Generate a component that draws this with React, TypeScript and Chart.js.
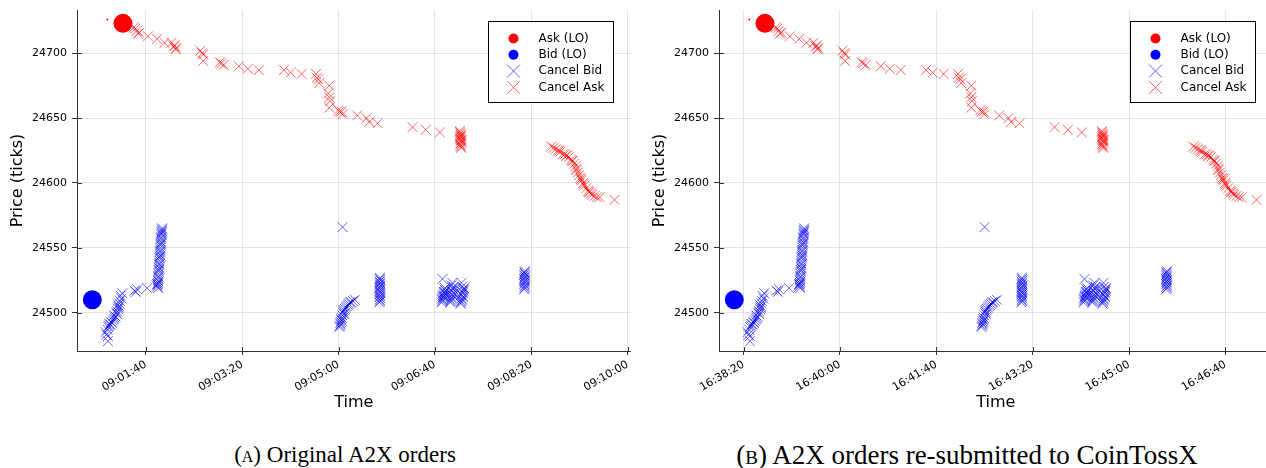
import React, { useEffect, useRef } from 'react';
import { Chart, registerables } from 'chart.js';

Chart.register(...registerables);

const SANS = '"DejaVu Sans", sans-serif';
const SERIF = '"Liberation Serif", "DejaVu Serif", serif';

// Order events, times in seconds after the session start, prices in ticks.
const askLoTimes = [60.0, 76.2];
const askLoPrices = [24726, 24723];
const askLoVolumes = [0.01, 1.0];

const bidLoTimes = [44.4];
const bidLoPrices = [24510];
const bidLoVolumes = [1.0];

const cancelBidTimes = [
  // opening climb
  58.1, 59.0, 60.6, 60.6, 59.9, 61.0, 61.6, 62.4, 63.3, 64.0, 64.8, 65.6, 66.8, 67.5, 68.5, 69.2, 69.8,
  70.2, 71.0, 71.5, 72.0, 72.6, 73.0, 73.7, 74.5, 75.4, 67.0, 70.8,
  88.2, 89.5, 91.0, 101.3, 111.7,
  // fast run-up
  112.0, 112.2, 112.4, 112.5, 112.7, 112.9, 113.0, 113.2, 113.3, 113.5, 113.7, 113.8, 114.0, 114.2, 114.3,
  114.5, 114.7, 114.8, 115.0, 115.2, 115.3, 115.5, 115.7, 115.8, 116.0, 116.2, 116.4, 116.6, 116.8, 116.9,
  113.1, 114.1, 115.1, 116.1, 111.5, 112.8,
  304.1,
  300.8, 301.3, 301.8, 302.0, 302.4, 302.9, 303.4, 303.9, 304.5, 305.0, 305.5, 306.5, 307.6, 308.5, 309.6,
  310.5, 311.7, 313.0, 314.8, 316.9, 303.0, 305.8,
  342.3, 343.1, 342.7, 343.3, 342.5, 343.0, 342.4, 343.2, 342.8, 342.6, 343.1, 342.4, 342.9, 343.3, 342.6,
  343.0, 342.5, 343.2, 342.7, 342.9,
  407.8, 418.1, 427.5,
  406.8, 407.4, 408.0, 408.6, 409.2, 409.8, 410.4, 407.1, 408.3, 409.5, 410.8, 407.7, 408.9, 410.1,
  416.0, 416.6, 417.2, 417.8, 418.4, 419.0, 419.6, 416.3, 417.5, 418.7, 419.3, 417.0, 418.1, 416.9,
  426.6, 427.2, 427.8, 428.4, 429.0, 429.6, 430.2, 426.9, 428.1, 429.3, 427.5, 428.7, 429.9, 428.0,
  492.4, 493.2, 492.8, 493.5, 492.6, 493.1, 492.9, 493.4, 492.5, 493.0, 493.3, 492.7, 493.1, 492.9, 493.2,
];
const cancelBidPrices = [
  24485, 24483, 24478, 24482, 24487, 24489, 24490, 24491, 24491, 24493, 24492, 24494, 24495, 24496, 24497, 24500, 24499,
  24501, 24503, 24504, 24505, 24507, 24509, 24513, 24511, 24515, 24498, 24506,
  24517, 24516, 24518, 24519, 24522,
  24520, 24522, 24523, 24525, 24527, 24528, 24530, 24532, 24533, 24535, 24537, 24538, 24540, 24542, 24543,
  24545, 24547, 24548, 24550, 24552, 24553, 24555, 24557, 24558, 24560, 24561, 24562, 24563, 24564, 24565,
  24524, 24534, 24544, 24554, 24521, 24519,
  24566,
  24489, 24490, 24492, 24491, 24493, 24495, 24496, 24498, 24500, 24501, 24502, 24503, 24504, 24505, 24506,
  24507, 24508, 24508, 24509, 24510, 24494, 24499,
  24508, 24509, 24510, 24511, 24512, 24513, 24514, 24515, 24516, 24517, 24518, 24519, 24520, 24521, 24522,
  24523, 24524, 24525, 24526, 24527,
  24526, 24523, 24523,
  24508, 24510, 24512, 24514, 24516, 24518, 24519, 24511, 24513, 24515, 24517, 24509, 24512, 24516,
  24508, 24510, 24512, 24514, 24516, 24518, 24520, 24509, 24511, 24513, 24515, 24517, 24519, 24521,
  24507, 24509, 24511, 24513, 24515, 24517, 24519, 24508, 24510, 24512, 24514, 24516, 24518, 24520,
  24518, 24519, 24520, 24521, 24522, 24523, 24524, 24525, 24526, 24527, 24528, 24529, 24530, 24531, 24532,
];

const cancelAskTimes = [
  87.6, 89.0, 90.2, 92.0, 93.0, 102.1, 111.7, 119.3, 126.5, 129.0, 130.0, 130.7, 131.5,
  156.6, 158.5, 159.4, 159.4, 176.7, 178.0, 180.8, 196.4, 205.7, 217.1,
  243.3, 250.3, 261.6, 276.5, 277.2, 278.9, 279.9, 290.3, 289.2, 290.3, 291.0, 290.3,
  299.6, 301.0, 303.1, 304.1, 319.3, 329.0, 331.7, 340.4, 376.7, 390.5, 405.0,
  425.6, 426.0, 426.4, 426.8, 427.2, 425.9, 426.3, 426.7, 427.1, 427.5, 426.1, 426.5, 426.9, 427.3, 427.7, 426.2,
  520.7, 523.0, 525.2, 527.5, 529.0, 530.0, 532.3, 534.5, 536.0, 537.0, 539.0, 541.2, 542.0, 543.1, 544.6,
  545.9, 546.5, 547.0, 548.3, 549.5, 550.8, 551.5, 552.0, 553.5, 554.0, 555.2, 557.0, 558.8, 559.5, 560.4,
  562.0, 563.0, 565.6, 568.0, 570.8, 586.3,
];
const cancelAskPrices = [
  24720, 24719, 24717, 24715, 24716, 24713, 24711, 24708, 24708, 24705, 24706, 24703, 24704,
  24702, 24700, 24699, 24694, 24693, 24692, 24691, 24690, 24688, 24687,
  24687, 24685, 24684, 24684, 24681, 24680, 24677, 24675, 24669, 24666, 24663, 24658,
  24656, 24655, 24655, 24653, 24652, 24650, 24647, 24646, 24643, 24641, 24639,
  24640, 24639, 24638, 24637, 24636, 24635, 24634, 24633, 24632, 24631, 24630, 24629, 24628, 24627, 24633, 24636,
  24628, 24627, 24626, 24625, 24625, 24624, 24622, 24622, 24621, 24621, 24620, 24618, 24617, 24617, 24615,
  24613, 24611, 24610, 24608, 24606, 24604, 24603, 24602, 24600, 24599, 24598, 24596, 24594, 24593, 24593,
  24592, 24591, 24590, 24589, 24589, 24587,
];

const priceTicks = [24500, 24550, 24600, 24650, 24700];
const priceMin = 24470.5;
const priceMax = 24733.3;

const timeTicksA = ['09:01:40', '09:03:20', '09:05:00', '09:06:40', '09:08:20', '09:10:00'];
const timeTicksB = ['16:38:20', '16:40:00', '16:41:40', '16:43:20', '16:45:00', '16:46:40'];
const sessionStartA = '09:00:00';
const sessionStartB = '16:37:26';
const windowStart = 28.5;
const windowEnd = 602.9;

const legendLabels = ['Ask (LO)', 'Bid (LO)', 'Cancel Bid', 'Cancel Ask'];

const RED = '#ff0000';
const BLUE = '#0000ff';
const RED_X = 'rgba(255,0,0,0.6)';
const BLUE_X = 'rgba(0,0,255,0.62)';

const toSec = (s: string) => {
  const [h, m, sec] = s.split(':').map(Number);
  return h * 3600 + m * 60 + sec;
};

const pts = (base: number, times: number[], prices: number[]) =>
  times.map((t, i) => ({ x: base + t, y: prices[i] }));

// Boxed legend in the top-right corner of the plot area
const boxedLegend = {
  id: 'boxedLegend',
  afterDatasetsDraw(chart: any) {
    const { ctx, chartArea } = chart;
    const w = 125;
    const h = 81;
    const x0 = Math.round(chartArea.right - 18 - w) + 0.5;
    const y0 = Math.round(chartArea.top + 11) + 0.5;
    ctx.save();
    ctx.fillStyle = '#ffffff';
    ctx.fillRect(x0, y0, w, h);
    ctx.strokeStyle = '#000000';
    ctx.lineWidth = 1;
    ctx.strokeRect(x0, y0, w, h);
    chart.data.datasets.forEach((ds: any, i: number) => {
      const cx = x0 + 25;
      const cy = y0 + 17 + i * 16.3;
      if (ds.pointStyle === 'circle') {
        ctx.fillStyle = ds.backgroundColor;
        ctx.beginPath();
        ctx.arc(cx, cy, 5, 0, Math.PI * 2);
        ctx.fill();
      } else {
        const r = 6.5;
        ctx.strokeStyle = ds.borderColor;
        ctx.lineWidth = 1;
        ctx.beginPath();
        ctx.moveTo(cx - r, cy - r);
        ctx.lineTo(cx + r, cy + r);
        ctx.moveTo(cx - r, cy + r);
        ctx.lineTo(cx + r, cy - r);
        ctx.stroke();
      }
      ctx.fillStyle = '#000000';
      ctx.font = `12px ${SANS}`;
      ctx.textAlign = 'left';
      ctx.textBaseline = 'middle';
      ctx.fillText(ds.label, x0 + 50, cy);
    });
    ctx.restore();
  },
};

// Short tick marks pointing into the plot area
const innerTicks = {
  id: 'innerTicks',
  afterDraw(chart: any) {
    const { ctx, chartArea, scales } = chart;
    ctx.save();
    ctx.strokeStyle = '#333333';
    ctx.lineWidth = 1;
    ctx.beginPath();
    scales.x.ticks.forEach((t: any) => {
      const px = Math.round(scales.x.getPixelForValue(t.value)) + 0.5;
      ctx.moveTo(px, chartArea.bottom);
      ctx.lineTo(px, chartArea.bottom - 4);
    });
    scales.y.ticks.forEach((t: any) => {
      const py = Math.round(scales.y.getPixelForValue(t.value)) + 0.5;
      ctx.moveTo(chartArea.left, py);
      ctx.lineTo(chartArea.left + 5, py);
    });
    ctx.stroke();
    ctx.restore();
  },
};

function OrderPanel({ start, tickLabels }: { start: string; tickLabels: string[] }) {
  const ref = useRef<HTMLCanvasElement>(null);
  useEffect(() => {
    const base = toSec(start);
    const tickValues = tickLabels.map(toSec);
    const chart = new Chart(ref.current as HTMLCanvasElement, {
      type: 'scatter',
      data: {
        datasets: [
          {
            label: legendLabels[0],
            data: pts(base, askLoTimes, askLoPrices),
            pointStyle: 'circle',
            pointRadius: askLoVolumes.map((v) => 9.5 * Math.sqrt(v)),
            backgroundColor: RED,
            borderColor: RED,
            borderWidth: 0,
          },
          {
            label: legendLabels[1],
            data: pts(base, bidLoTimes, bidLoPrices),
            pointStyle: 'circle',
            pointRadius: bidLoVolumes.map((v) => 9.5 * Math.sqrt(v)),
            backgroundColor: BLUE,
            borderColor: BLUE,
            borderWidth: 0,
          },
          {
            label: legendLabels[2],
            data: pts(base, cancelBidTimes, cancelBidPrices),
            pointStyle: 'crossRot',
            pointRadius: 7,
            borderColor: BLUE_X,
            backgroundColor: BLUE_X,
            borderWidth: 1,
          },
          {
            label: legendLabels[3],
            data: pts(base, cancelAskTimes, cancelAskPrices),
            pointStyle: 'crossRot',
            pointRadius: 7,
            borderColor: RED_X,
            backgroundColor: RED_X,
            borderWidth: 1,
          },
        ],
      },
      options: {
        responsive: false,
        animation: false,
        events: [],
        layout: { padding: { top: 10, right: 9, left: 0, bottom: 0 } },
        plugins: { legend: { display: false }, tooltip: { enabled: false } },
        scales: {
          x: {
            type: 'linear',
            min: base + windowStart,
            max: base + windowEnd,
            afterBuildTicks: (s: any) => {
              s.ticks = tickValues.map((v) => ({ value: v }));
            },
            afterFit: (s: any) => {
              s.height = 69;
              s.paddingLeft = 0;
              s.paddingRight = 0;
            },
            ticks: {
              autoSkip: false,
              minRotation: 30,
              maxRotation: 30,
              padding: 3,
              color: '#000000',
              font: { family: SANS, size: 11 },
              callback: (_v: any, i: number) => tickLabels[i],
            },
            grid: { color: 'rgba(0,0,0,0.1)', tickColor: '#333333', tickLength: 4 },
            border: { color: '#333333', width: 1 },
            title: {
              display: true,
              text: 'Time',
              color: '#000000',
              font: { family: SANS, size: 16 },
              padding: { top: 0, bottom: 8 },
            },
          },
          y: {
            type: 'linear',
            min: priceMin,
            max: priceMax,
            afterBuildTicks: (s: any) => {
              s.ticks = priceTicks.map((v) => ({ value: v }));
            },
            afterFit: (s: any) => {
              s.width = 77;
              s.paddingTop = 0;
              s.paddingBottom = 0;
            },
            ticks: {
              padding: 5,
              color: '#000000',
              font: { family: SANS, size: 11 },
              callback: (v: any) => String(v),
            },
            grid: { color: 'rgba(0,0,0,0.1)', tickColor: '#333333', tickLength: 5 },
            border: { color: '#333333', width: 1 },
            title: {
              display: true,
              text: 'Price (ticks)',
              color: '#000000',
              font: { family: SANS, size: 16 },
              padding: { top: 8, bottom: 0 },
            },
          },
        },
      },
      plugins: [boxedLegend, innerTicks],
    } as any);
    return () => chart.destroy();
  }, [start, tickLabels]);
  return <canvas ref={ref} width={640} height={420} />;
}

const captionStyle: React.CSSProperties = {
  position: 'absolute',
  top: 440,
  width: 600,
  textAlign: 'center',
  fontFamily: SERIF,
  lineHeight: '30px',
  color: '#000',
  whiteSpace: 'nowrap',
};

export default function App() {
  return (
    <div
      style={{
        position: 'absolute',
        left: 0,
        top: 0,
        width: 1266,
        height: 468,
        overflow: 'hidden',
        background: '#ffffff',
      }}
    >
      <div style={{ position: 'absolute', left: 0, top: 0 }}>
        <OrderPanel start={sessionStartA} tickLabels={timeTicksA} />
      </div>
      <div style={{ position: 'absolute', left: 642, top: 0 }}>
        <OrderPanel start={sessionStartB} tickLabels={timeTicksB} />
      </div>
      <div style={{ ...captionStyle, left: 345 - 300, fontSize: 23 }}>
        <span style={{ fontVariant: 'small-caps' }}>(a)</span> Original A2X orders
      </div>
      <div style={{ ...captionStyle, left: 967 - 300, fontSize: 27 }}>
        <span style={{ fontVariant: 'small-caps' }}>(b)</span> A2X orders re-submitted to CoinTossX
      </div>
    </div>
  );
}
